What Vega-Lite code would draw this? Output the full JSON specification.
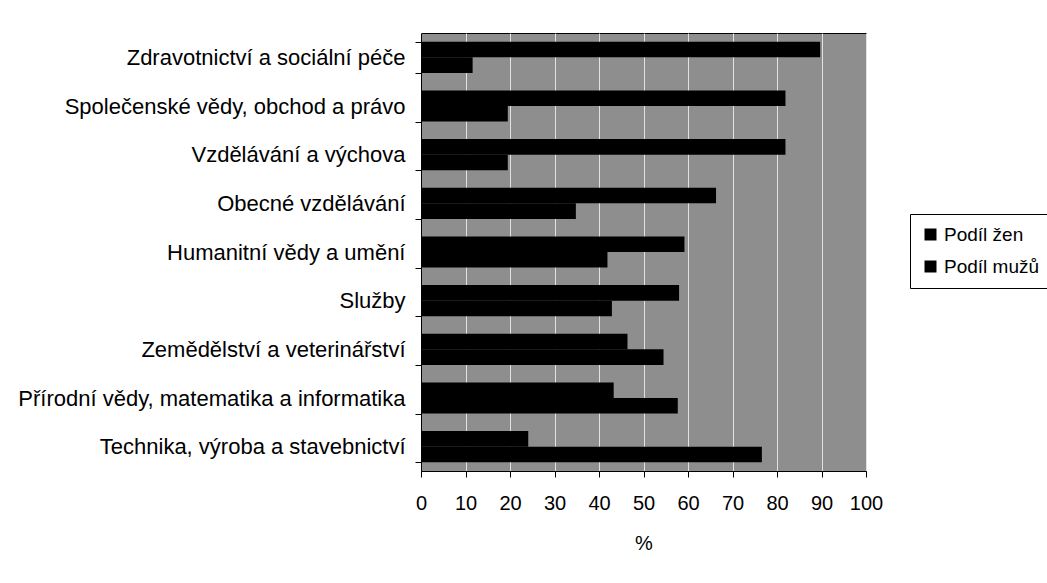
{
  "$schema": "https://vega.github.io/schema/vega-lite/v6.json",
  "width": 445,
  "height": 438,
  "autosize": {"type": "none"},
  "padding": {"left": 421, "top": 33, "right": 181, "bottom": 112},
  "background": "white",
  "config": {
    "font": "Liberation Sans",
    "view": {"fill": "#8e8e8e", "stroke": "#000000", "strokeWidth": 1}
  },
  "data": {
    "values": [
      {"category": "Zdravotnictví a sociální péče", "series": "Podíl žen", "value": 89.7},
      {"category": "Zdravotnictví a sociální péče", "series": "Podíl mužů", "value": 11.6},
      {"category": "Společenské vědy, obchod a právo", "series": "Podíl žen", "value": 81.9},
      {"category": "Společenské vědy, obchod a právo", "series": "Podíl mužů", "value": 19.5},
      {"category": "Vzdělávání a výchova", "series": "Podíl žen", "value": 81.9},
      {"category": "Vzdělávání a výchova", "series": "Podíl mužů", "value": 19.5},
      {"category": "Obecné vzdělávání", "series": "Podíl žen", "value": 66.3},
      {"category": "Obecné vzdělávání", "series": "Podíl mužů", "value": 34.8},
      {"category": "Humanitní vědy a umění", "series": "Podíl žen", "value": 59.2},
      {"category": "Humanitní vědy a umění", "series": "Podíl mužů", "value": 41.9},
      {"category": "Služby", "series": "Podíl žen", "value": 58.0},
      {"category": "Služby", "series": "Podíl mužů", "value": 42.9},
      {"category": "Zemědělství a veterinářství", "series": "Podíl žen", "value": 46.4},
      {"category": "Zemědělství a veterinářství", "series": "Podíl mužů", "value": 54.5},
      {"category": "Přírodní vědy, matematika a informatika", "series": "Podíl žen", "value": 43.3},
      {"category": "Přírodní vědy, matematika a informatika", "series": "Podíl mužů", "value": 57.7},
      {"category": "Technika, výroba a stavebnictví", "series": "Podíl žen", "value": 24.1},
      {"category": "Technika, výroba a stavebnictví", "series": "Podíl mužů", "value": 76.6}
    ]
  },
  "mark": {"type": "bar", "stroke": null},
  "encoding": {
    "y": {
      "field": "category",
      "type": "nominal",
      "sort": null,
      "scale": {"paddingInner": 0.36, "paddingOuter": 0.18},
      "axis": {
        "title": null,
        "tickBand": "extent",
        "labelFontSize": 22,
        "labelColor": "#000000",
        "labelPadding": 10,
        "tickSize": 6,
        "tickColor": "#000000",
        "domainColor": "#000000",
        "labelLimit": 500,
        "grid": false
      }
    },
    "yOffset": {
      "field": "series",
      "type": "nominal",
      "sort": ["Podíl žen", "Podíl mužů"]
    },
    "x": {
      "field": "value",
      "type": "quantitative",
      "scale": {"domain": [0, 100], "nice": false},
      "axis": {
        "title": "%",
        "titleFontSize": 20,
        "titleFontWeight": "normal",
        "titleColor": "#000000",
        "titlePadding": 20,
        "values": [0, 10, 20, 30, 40, 50, 60, 70, 80, 90, 100],
        "labelFontSize": 20,
        "labelColor": "#000000",
        "labelPadding": 16,
        "labelFlush": false,
        "labelOverlap": false,
        "labelBound": false,
        "tickSize": 6,
        "tickColor": "#000000",
        "domainColor": "#000000",
        "grid": true,
        "gridColor": "#e2e2e2",
        "gridWidth": 1,
        "gridOpacity": 1
      }
    },
    "color": {
      "field": "series",
      "type": "nominal",
      "sort": ["Podíl žen", "Podíl mužů"],
      "scale": {"range": ["#000000", "#000000"]},
      "legend": {
        "title": null,
        "orient": "none",
        "legendX": 489,
        "legendY": 181,
        "padding": 11,
        "strokeColor": "#000000",
        "fillColor": "#ffffff",
        "symbolType": "square",
        "symbolSize": 144,
        "symbolStrokeWidth": 0,
        "labelFontSize": 19,
        "labelColor": "#000000",
        "rowPadding": 12,
        "labelOffset": 4
      }
    }
  }
}
